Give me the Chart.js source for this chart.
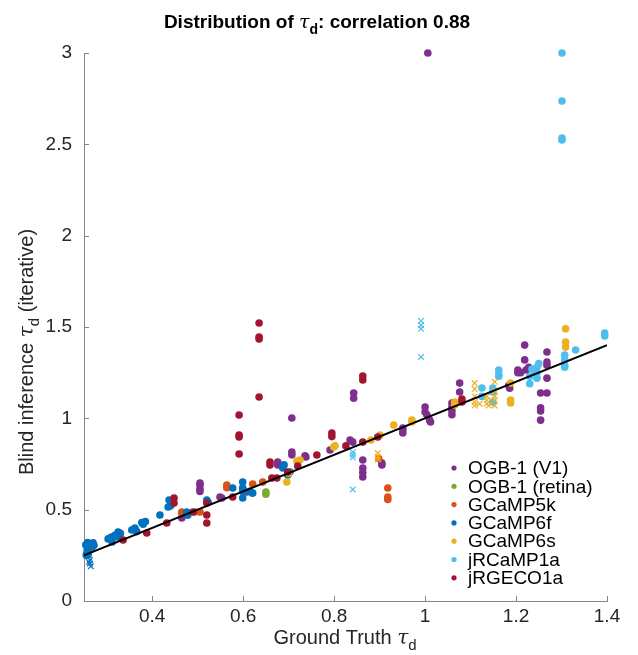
<!DOCTYPE html>
<html>
<head>
<meta charset="utf-8">
<script src="https://cdn.jsdelivr.net/npm/chart.js@4.4.1/dist/chart.umd.min.js"></script>
<style>
  html, body { margin: 0; padding: 0; background: #fff; }
  #wrap { width: 638px; height: 655px; }
</style>
</head>
<body>
<div id="wrap"><canvas id="chart-1" width="638" height="655"></canvas></div>
<script>
// ground truth tau_d vs blind inference tau_d, per indicator
const ogbV1 = [
  [0.465, 0.454], [0.505, 0.646], [0.505, 0.635], [0.505, 0.613], [0.505, 0.6], [0.549, 0.569], [0.553, 0.564],
  [0.608, 0.597], [0.676, 0.761], [0.676, 0.745], [0.707, 1.002], [0.707, 0.816], [0.707, 0.8], [0.738, 0.788],
  [0.736, 0.795], [0.791, 0.827], [0.835, 0.881], [0.843, 1.139], [0.843, 1.11], [0.841, 0.87], [0.863, 0.772],
  [0.863, 0.728], [0.863, 0.703], [0.863, 0.679], [0.905, 0.755], [0.905, 0.745], [0.951, 0.947], [0.951, 0.936],
  [0.951, 0.92], [1.0, 1.062], [1.0, 1.035], [1.004, 1.02], [1.01, 0.99], [1.012, 0.98], [1.006, 3.0],
  [1.059, 1.084], [1.059, 1.062], [1.059, 1.04], [1.059, 1.02], [1.076, 1.193], [1.076, 1.144],
  [1.184, 1.18], [1.186, 1.165], [1.204, 1.265], [1.204, 1.25], [1.219, 1.401], [1.219, 1.32], [1.222, 1.265],
  [1.21, 1.25], [1.228, 1.28], [1.254, 1.139], [1.268, 1.139], [1.254, 1.057], [1.254, 1.04], [1.254, 0.99],
  [1.268, 1.363], [1.268, 1.308], [1.268, 1.29], [1.268, 1.22]
];
const ogbRetina = [[0.494, 0.487], [0.65, 0.597], [0.65, 0.585], [0.62, 0.59]];
const gcamp5k = [
  [0.465, 0.487], [0.465, 0.48], [0.505, 0.487], [0.564, 0.635], [0.564, 0.62], [0.621, 0.64], [0.643, 0.651],
  [0.898, 0.78], [0.918, 0.619], [0.918, 0.569], [0.918, 0.556]
];
const gcamp6f = [
  [0.254, 0.307], [0.257, 0.28], [0.259, 0.252], [0.255, 0.25], [0.268, 0.296], [0.27, 0.318], [0.262, 0.3],
  [0.256, 0.26], [0.258, 0.32], [0.265, 0.31], [0.272, 0.305], [0.26, 0.27],
  [0.303, 0.34], [0.31, 0.35], [0.312, 0.323], [0.318, 0.36], [0.325, 0.378], [0.325, 0.35],
  [0.33, 0.37], [0.355, 0.389], [0.362, 0.4], [0.366, 0.38], [0.377, 0.43], [0.38, 0.42], [0.385, 0.435],
  [0.417, 0.471], [0.435, 0.515], [0.437, 0.553], [0.44, 0.52], [0.476, 0.487], [0.478, 0.47], [0.476, 0.48],
  [0.52, 0.553], [0.523, 0.54], [0.577, 0.619], [0.599, 0.651], [0.599, 0.62], [0.599, 0.6], [0.599, 0.564],
  [0.621, 0.591], [0.615, 0.6], [0.687, 0.728], [0.69, 0.745], [0.698, 0.69], [0.703, 0.706]
];
const gcamp6s = [
  [0.696, 0.651], [0.7, 0.7], [0.718, 0.766], [0.725, 0.772], [0.799, 0.843], [0.802, 0.85], [0.881, 0.881],
  [0.901, 0.909], [0.931, 0.963], [0.971, 0.98], [0.971, 0.99], [1.065, 1.089], [1.065, 1.073], [1.188, 1.193],
  [1.188, 1.1], [1.188, 1.084], [1.309, 1.49], [1.309, 1.418], [1.309, 1.39]
];
const jrcamp1a = [
  [1.125, 1.166], [1.125, 1.12], [1.149, 1.166], [1.149, 1.144], [1.149, 1.089], [1.162, 1.265], [1.162, 1.24],
  [1.162, 1.23], [1.23, 1.23], [1.23, 1.19], [1.246, 1.28], [1.246, 1.25], [1.246, 1.22], [1.24, 1.26],
  [1.235, 1.27], [1.25, 1.3], [1.307, 1.347], [1.307, 1.32], [1.307, 1.29], [1.307, 1.28], [1.331, 1.374],
  [1.395, 1.467], [1.395, 1.451], [1.301, 3.0], [1.301, 2.737], [1.301, 2.535], [1.301, 2.524]
];
const jrgeco1a = [
  [0.336, 0.334], [0.388, 0.372], [0.432, 0.427], [0.448, 0.564], [0.448, 0.536], [0.49, 0.487], [0.52, 0.536],
  [0.52, 0.471], [0.52, 0.427], [0.577, 0.569], [0.591, 1.018], [0.591, 0.909], [0.591, 0.898], [0.591, 0.805],
  [0.635, 1.522], [0.635, 1.445], [0.635, 1.434], [0.635, 1.117], [0.659, 0.761], [0.659, 0.745], [0.663, 0.673],
  [0.674, 0.673], [0.698, 0.706], [0.72, 0.739], [0.762, 0.799], [0.795, 0.92], [0.795, 0.9], [0.826, 0.849],
  [0.863, 1.232], [0.863, 1.21], [0.863, 0.87], [0.896, 0.898], [1.081, 1.106], [1.081, 1.09]
];
// cross markers
const gcamp6fX = [[0.263, 0.224], [0.263, 0.205], [0.265, 0.19], [0.261, 0.213]];
const gcamp6sX = [
  [1.109, 1.193], [1.109, 1.16], [1.109, 1.12], [1.109, 1.09], [1.109, 1.07], [1.12, 1.08], [1.136, 1.12],
  [1.136, 1.1], [1.136, 1.08], [1.14, 1.07], [1.153, 1.2], [1.153, 1.15], [1.153, 1.12], [1.153, 1.1],
  [1.153, 1.07], [0.896, 0.81], [0.896, 0.79], [0.896, 0.775]
];
const jrcamp1aX = [
  [0.991, 1.533], [0.991, 1.51], [0.991, 1.49], [0.991, 1.336], [0.841, 0.816], [0.841, 0.8], [0.841, 0.785],
  [0.841, 0.61]
];
const identityLine = [[0.25, 0.25], [1.4, 1.4]];

const xTicks = [0.4, 0.6, 0.8, 1, 1.2, 1.4];
const yTicks = [0, 0.5, 1, 1.5, 2, 2.5, 3];

const seriesNames = ["OGB-1 (V1)", "OGB-1 (retina)", "GCaMP5k", "GCaMP6f", "GCaMP6s", "jRCaMP1a", "jRGECO1a"];
const seriesData = [ogbV1, ogbRetina, gcamp5k, gcamp6f, gcamp6s, jrcamp1a, jrgeco1a];
const seriesColors = ["#7E2F8E", "#77AC30", "#D95319", "#0072BD", "#EDB120", "#4DBEEE", "#A2142F"];

const FONT = "'Liberation Sans', Arial, sans-serif";
const toXY = (arr) => arr.map((p) => ({ x: p[0], y: p[1] }));

const datasets = [
  {
    label: "fit",
    type: "line",
    data: toXY(identityLine),
    borderColor: "#000",
    borderWidth: 2,
    pointRadius: 0,
    fill: false,
    order: 0,
  },
];
seriesData.forEach((d, i) => {
  datasets.push({
    label: seriesNames[i],
    data: toXY(d),
    backgroundColor: seriesColors[i],
    borderWidth: 0,
    pointRadius: 3.8,
    pointHoverRadius: 3.8,
    clip: false,
    order: 20 - i,
  });
});
[[gcamp6fX, "#0072BD"], [gcamp6sX, "#EDB120"], [jrcamp1aX, "#4DBEEE"]].forEach(([d, c], i) => {
  datasets.push({
    label: "x" + i,
    data: toXY(d),
    pointStyle: "crossRot",
    borderColor: c,
    borderWidth: 1.2,
    pointRadius: 4,
    clip: false,
    order: 5 - i,
  });
});

// draws text runs with tau and a subscript d, centred at x
function drawRuns(ctx, runs, x, y) {
  let total = 0;
  runs.forEach((r) => {
    ctx.font = r.font;
    r.w = ctx.measureText(r.t).width;
    total += r.w;
  });
  let cx = x - total / 2;
  ctx.textAlign = "left";
  ctx.textBaseline = "alphabetic";
  runs.forEach((r) => {
    ctx.font = r.font;
    ctx.fillText(r.t, cx, y + (r.dy || 0));
    cx += r.w;
  });
}

const decor = {
  id: "decor",
  beforeDatasetsDraw(chart) {
    const { ctx, scales } = chart;
    const xs = scales.x, ys = scales.y;
    ctx.save();
    ctx.strokeStyle = "#858585";
    ctx.lineWidth = 1;
    ctx.beginPath();
    xTicks.forEach((v) => {
      const px = Math.round(xs.getPixelForValue(v)) + 0.5;
      ctx.moveTo(px, ys.bottom);
      ctx.lineTo(px, ys.bottom - 5);
    });
    yTicks.forEach((v) => {
      const py = Math.round(ys.getPixelForValue(v)) + 0.5;
      ctx.moveTo(xs.left, py);
      ctx.lineTo(xs.left + 5, py);
    });
    ctx.stroke();
    ctx.restore();
  },
  afterDraw(chart) {
    const { ctx } = chart;
    ctx.save();
    // title
    ctx.fillStyle = "#000";
    drawRuns(ctx, [
      { t: "Distribution of ", font: "bold 19px " + FONT },
      { t: "\u03C4", font: "italic 19px 'DejaVu Serif', serif" },
      { t: "d", font: "bold 14px " + FONT, dy: 6 },
      { t: ": correlation 0.88", font: "bold 19px " + FONT },
    ], 317, 28);
    // axis labels
    ctx.fillStyle = "#262626";
    drawRuns(ctx, [
      { t: "Ground Truth ", font: "20px " + FONT },
      { t: "\u03C4", font: "italic 20px 'DejaVu Serif', serif" },
      { t: "d", font: "15px " + FONT, dy: 6 },
    ], 345, 644);
    ctx.translate(33, 352);
    ctx.rotate(-Math.PI / 2);
    drawRuns(ctx, [
      { t: "Blind inference ", font: "20px " + FONT },
      { t: "\u03C4", font: "italic 20px 'DejaVu Serif', serif" },
      { t: "d", font: "15px " + FONT, dy: 6 },
      { t: " (iterative)", font: "20px " + FONT },
    ], 0, 0);
    ctx.restore();

    // legend
    ctx.save();
    ctx.font = "19px " + FONT;
    ctx.textBaseline = "middle";
    ctx.textAlign = "left";
    seriesNames.forEach((name, i) => {
      const y = 468 + i * 18.3;
      ctx.fillStyle = seriesColors[i];
      ctx.beginPath();
      ctx.arc(454, y, 2.6, 0, Math.PI * 2);
      ctx.fill();
      ctx.fillStyle = "#000";
      ctx.fillText(name, 468, y + 1);
    });
    ctx.restore();
  },
};

const ctx_1 = document.getElementById("chart-1");
new Chart(ctx_1, {
  type: "scatter",
  data: { datasets: datasets },
  options: {
    responsive: false,
    animation: false,
    layout: { padding: { left: 0, right: 31, top: 53, bottom: 0 } },
    plugins: {
      legend: { display: false },
      tooltip: { enabled: false },
      title: { display: false },
    },
    scales: {
      x: {
        type: "linear",
        min: 0.25,
        max: 1.4,
        afterBuildTicks: (s) => { s.ticks = xTicks.map((v) => ({ value: v })); },
        afterFit: (s) => { s.height = 54; },
        grid: { display: false, drawTicks: false },
        border: { display: true, color: "#858585", width: 1 },
        ticks: {
          color: "#262626",
          font: { family: FONT, size: 19 },
          padding: 4,
          maxRotation: 0,
          callback: (v) => String(Math.round(v * 10) / 10),
        },
      },
      y: {
        type: "linear",
        min: 0,
        max: 3,
        afterBuildTicks: (s) => { s.ticks = yTicks.map((v) => ({ value: v })); },
        afterFit: (s) => { s.width = 84; },
        grid: { display: false, drawTicks: false },
        border: { display: true, color: "#858585", width: 1 },
        ticks: {
          color: "#262626",
          font: { family: FONT, size: 19 },
          padding: 12,
          callback: (v) => String(v),
        },
      },
    },
  },
  plugins: [decor],
});
</script>
</body>
</html>
